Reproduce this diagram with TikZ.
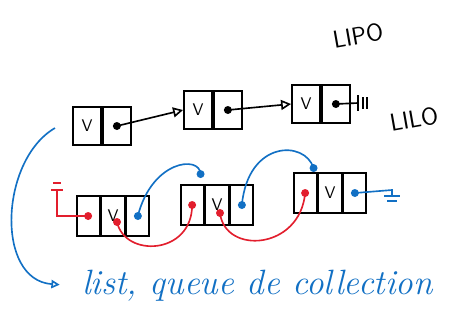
\documentclass[tikz,border=0pt]{standalone}
\usepackage{tikz}
\usetikzlibrary{arrows.meta,positioning,calc}
\definecolor{azul}{RGB}{18,112,196}
\definecolor{verm}{RGB}{226,30,45}
\tikzstyle{cell} = [rectangle, draw=black, line width=1.6pt, minimum width=0.84cm, minimum height=1.14cm, inner sep=0pt, font=\Large\sffamily]
\tikzstyle{smallcell} = [rectangle, draw=black, line width=1.6pt, minimum width=0.69cm, minimum height=1.2cm, inner sep=0pt, font=\Large\sffamily]
\tikzstyle{arrow} = [line width=1.4pt, ->, >={Triangle[open,length=3mm,width=3mm]}]
\tikzstyle{preto} = [line width=1.4pt]
\tikzstyle{redline} = [line width=1.4pt, draw=verm]
\tikzstyle{blueline} = [line width=1.4pt, draw=azul]
\tikzstyle{hand} = [font=\fontsize{21}{23}\selectfont\sffamily]

\begin{document}
\begin{tikzpicture}[x=0.03cm, y=-0.03cm]
        \useasboundingbox (0,0) rectangle (453,322);
        % LIPO
        \node (v1) [cell] at (87,126) {V};
        \node (p1) [cell, right=0pt of v1] {};
        \node (v2) [cell] at (198,110) {V};
        \node (p2) [cell, right=0pt of v2] {};
        \node (v3) [cell] at (306,104) {V};
        \node (p3) [cell, right=0pt of v3] {};
        \foreach \n in {p1,p2,p3} \fill (\n) circle[radius=1.2mm];
        \draw [arrow] (p1.center) -- (v2.west);
        \draw [arrow] (p2.center) -- (v3.west);
        \coordinate (nil) at (358,103);
        \draw [preto] (p3.center) -- (nil);
        \draw [preto] ($(nil)+(0,-8)$) -- ($(nil)+(0,8)$);
        \draw [preto] ($(nil)+(5,-6)$) -- ($(nil)+(5,6)$);
        \draw [preto] ($(nil)+(9,-6)$) -- ($(nil)+(9,6)$);
        \node (lipo) [hand, rotate=10] at (358,36) {LIPO};

        % LILO
        \node (a2) [smallcell] at (113,216) {V};
        \node (a1) [smallcell, left=0pt of a2] {};
        \node (a3) [smallcell, right=0pt of a2] {};
        \node (b2) [smallcell] at (217,205) {V};
        \node (b1) [smallcell, left=0pt of b2] {};
        \node (b3) [smallcell, right=0pt of b2] {};
        \node (c2) [smallcell] at (330,193) {V};
        \node (c1) [smallcell, left=0pt of c2] {};
        \node (c3) [smallcell, right=0pt of c2] {};
        \node (lilo) [hand, rotate=10, anchor=west] at (386,124) {LILO};
        \foreach \n in {a1,b1,c1} \fill [verm] (\n) circle[radius=1.2mm];
        \foreach \n in {a3,b3,c3} \fill [azul] (\n) circle[radius=1.2mm];

        % prev
        \coordinate (head) at (57,190);
        \draw [redline] (head) |- (a1.center);
        \draw [redline] ($(head)+(-6,0)$) -- ($(head)+(6,0)$);
        \draw [redline] ($(head)+(-4,-7)$) -- ($(head)+(4,-7)$);
        \coordinate (ba) at ([shift={(4,6)}]a2.center);
        \coordinate (cb) at ([shift={(3,8)}]b2.center);
        \draw [redline] (b1.center) .. controls (192,255) and (125,258) .. (ba);
        \draw [redline] (c1.center) .. controls (300,250) and (225,255) .. (cb);
        \fill [verm] (ba) circle[radius=1.2mm];
        \fill [verm] (cb) circle[radius=1.2mm];

        % next
        \coordinate (ab) at ([shift={(-4,-10)}]b1.north east);
        \coordinate (bc) at ([shift={(-4,-4)}]c1.north east);
        \draw [blueline] (a3.center) .. controls (152,160) and (200,155) .. (ab);
        \draw [blueline] (b3.center) .. controls (248,140) and (305,140) .. (bc);
        \fill [azul] (ab) circle[radius=1.2mm];
        \fill [azul] (bc) circle[radius=1.2mm];
        \coordinate (tail) at (392,190);
        \draw [blueline] (c3.center) -- (tail) -- ++(0,6);
        \draw [blueline] ($(tail)+(-8,6)$) -- ($(tail)+(8,6)$);
        \draw [blueline] ($(tail)+(-5,11)$) -- ($(tail)+(5,11)$);

        % Legenda
        \node (coll) [text=azul, anchor=west, font=\fontsize{30}{32}\selectfont\itshape] at (78,286) {list, queue de collection};
        \coordinate (from) at (55,128);
        \draw [blueline, ->, >={Triangle[open,length=2.5mm,width=2.5mm]}, shorten >=0.55cm] (from) .. controls (0,160) and (-5,280) .. (coll.west);
\end{tikzpicture}
\end{document}
